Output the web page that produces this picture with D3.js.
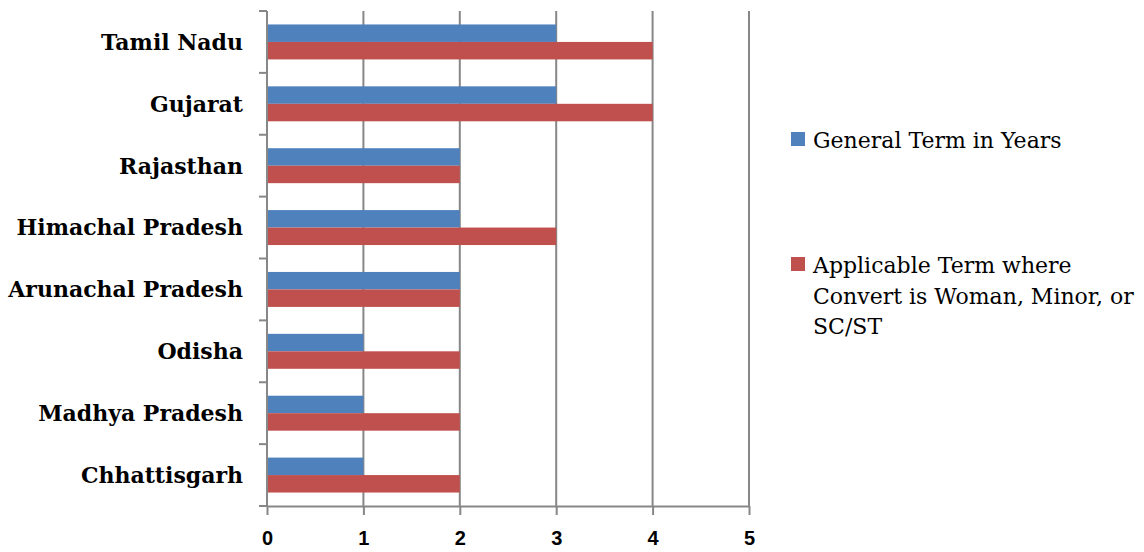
<!DOCTYPE html>
<html lang="en">
  <head>
    <meta charset="UTF-8" />
    <script src="https://d3js.org/d3.v7.min.js"></script>
    <title>Conversion terms by state</title>
    <style>
      body { margin: 0; background: #fff; }
    </style>
  </head>
  <body>
    <div id="my_dataviz"></div>
    <script>
      // data, top to bottom as in the chart
      var states = ["Tamil Nadu", "Gujarat", "Rajasthan", "Himachal Pradesh",
                    "Arunachal Pradesh", "Odisha", "Madhya Pradesh", "Chhattisgarh"]
      var generalTerm = [3, 3, 2, 2, 2, 1, 1, 1]
      var applicableTerm = [4, 4, 2, 3, 2, 2, 2, 2]
      var seriesNames = ["General Term in Years",
                         "Applicable Term where Convert is Woman, Minor, or SC/ST"]
      var legendLines = [["General Term in Years"],
                         ["Applicable Term where", "Convert is Woman, Minor, or", "SC/ST"]]
      var xTicks = [0, 1, 2, 3, 4, 5]

      var width = 1144, height = 552
      var colors = ["#4F81BD", "#C0504D"]
      var gridColor = "#878787"

      var svg = d3.select("#my_dataviz")
        .append("svg")
          .attr("width", width)
          .attr("height", height)

      // scales
      var x = d3.scaleLinear().domain([0, 5]).range([267, 749])
      var y = d3.scaleBand().domain(states).range([11, 506])
        .paddingInner(0.435).paddingOuter(0.2175)
      var ySub = d3.scaleBand().domain([0, 1]).range([0, y.bandwidth()])

      // vertical gridlines
      svg.selectAll("line.grid")
        .data(xTicks.filter(function(d) { return d > 0 }))
        .enter().append("line")
          .attr("class", "grid")
          .attr("x1", function(d) { return x(d) }).attr("x2", function(d) { return x(d) })
          .attr("y1", 11).attr("y2", 506)
          .attr("stroke", gridColor).attr("stroke-width", 2)

      // bars
      var rows = states.map(function(s, i) { return { state: s, values: [generalTerm[i], applicableTerm[i]] } })
      var groups = svg.selectAll("g.row")
        .data(rows)
        .enter().append("g")
          .attr("transform", function(d) { return "translate(0," + y(d.state) + ")" })
      groups.selectAll("rect")
        .data(function(d) { return d.values.map(function(v, k) { return { k: k, v: v } }) })
        .enter().append("rect")
          .attr("x", x(0))
          .attr("y", function(d) { return ySub(d.k) })
          .attr("width", function(d) { return x(d.v) - x(0) })
          .attr("height", ySub.bandwidth())
          .attr("fill", function(d) { return colors[d.k] })

      // y axis line and ticks at band edges
      svg.append("line")
        .attr("x1", x(0)).attr("x2", x(0)).attr("y1", 11).attr("y2", 506)
        .attr("stroke", gridColor).attr("stroke-width", 2)
      var edges = d3.range(states.length + 1).map(function(i) { return 11 + i * y.step() })
      svg.selectAll("line.ytick")
        .data(edges)
        .enter().append("line")
          .attr("x1", x(0) - 8).attr("x2", x(0))
          .attr("y1", function(d) { return d }).attr("y2", function(d) { return d })
          .attr("stroke", gridColor).attr("stroke-width", 2)

      // category labels
      svg.selectAll("text.cat")
        .data(states)
        .enter().append("text")
          .attr("x", 243)
          .attr("y", function(d) { return y(d) + y.bandwidth() / 2 })
          .attr("dy", "0.36em")
          .attr("text-anchor", "end")
          .style("font-family", "'DejaVu Serif', serif")
          .style("font-weight", "bold")
          .style("font-size", "22px")
          .text(function(d) { return d })

      // x axis
      var xAxis = svg.append("g")
        .attr("transform", "translate(0,506)")
        .call(d3.axisBottom(x).tickValues(xTicks).tickFormat(d3.format("d"))
          .tickSize(9).tickSizeOuter(0))
      xAxis.select(".domain").attr("stroke", gridColor).attr("stroke-width", 2)
      xAxis.selectAll(".tick line").attr("stroke", gridColor).attr("stroke-width", 2)
      xAxis.selectAll(".tick text")
        .attr("y", 39).attr("dy", null)
        .attr("fill", "#000")
        .style("font-family", "'Liberation Sans', Arial, sans-serif")
        .style("font-weight", "bold")
        .style("font-size", "20px")

      // legend
      var legendTop = [132, 257]
      var legend = svg.selectAll("g.legend")
        .data(seriesNames)
        .enter().append("g")
          .attr("transform", function(d, i) { return "translate(791," + legendTop[i] + ")" })
      legend.append("rect")
        .attr("width", 14).attr("height", 14)
        .attr("fill", function(d, i) { return colors[i] })
      legend.append("text")
        .attr("x", 22)
        .style("font-family", "'DejaVu Serif', serif")
        .style("font-size", "22px")
        .selectAll("tspan")
        .data(function(d, i) { return legendLines[i] })
        .enter().append("tspan")
          .attr("x", 22)
          .attr("y", function(d, j) { return 16 + j * 30.5 })
          .text(function(d) { return d })
    </script>
  </body>
</html>
